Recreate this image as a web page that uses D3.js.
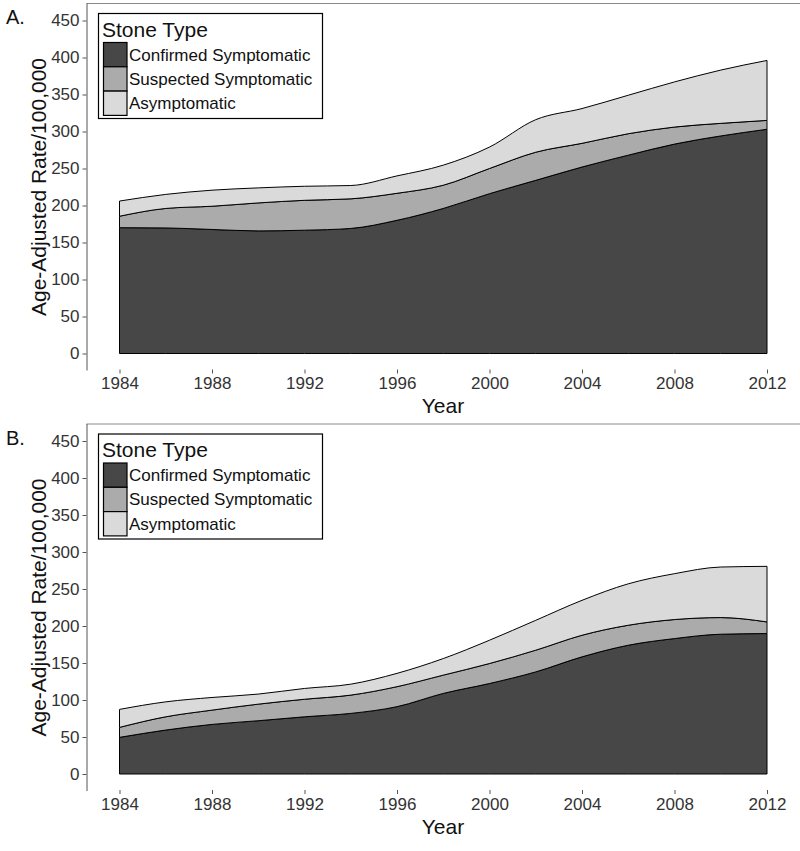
<!DOCTYPE html>
<html>
<head>
<meta charset="utf-8">
<script src="https://cdn.jsdelivr.net/npm/d3@7"></script>
<style>
  html, body { margin: 0; padding: 0; background: #ffffff; }
  svg { display: block; font-family: "Liberation Sans", Arial, sans-serif; }
</style>
</head>
<body>
<svg id="chart" width="800" height="851"></svg>
<script>
// ---------------- DATA ----------------
const years = [1984, 1986, 1988, 1990, 1992, 1994, 1996, 1998, 2000, 2002, 2004, 2006, 2008, 2010, 2012];
const seriesNames = ["Confirmed Symptomatic", "Suspected Symptomatic", "Asymptomatic"];
const seriesColors = ["#474747", "#ababab", "#dadada"];

// Panel A
const confirmedA    = [170, 169.7, 167.6, 165.7, 166.6, 169, 180, 196, 216, 234, 252, 268, 283, 294, 303];
const suspectedA    = [15.5, 26.3, 31.4, 37.8, 40.4, 40, 36.5, 31.4, 34, 38, 32, 29, 23, 17, 12];
const asymptomaticA = [20.5, 19, 21.7, 20.3, 19, 18, 23.5, 27.1, 29, 44, 47, 52, 61, 72, 81];

// Panel B
const confirmedB    = [49.5, 59.4, 67, 72, 77.3, 81.9, 91, 108.9, 122.3, 138, 158.3, 174, 183, 188.9, 189.8];
const suspectedB    = [13.5, 17.9, 19.3, 22.4, 23.7, 24.7, 27, 24.7, 27, 29.3, 29.2, 27, 25.7, 22.5, 15.7];
const asymptomaticB = [24.3, 20.2, 17.1, 13.6, 14.6, 14.8, 18, 22.4, 31.5, 40.4, 47.2, 56, 62, 68.3, 75.1];

const yTicks = [0, 50, 100, 150, 200, 250, 300, 350, 400, 450];
const xTicks = [1984, 1988, 1992, 1996, 2000, 2004, 2008, 2012];
const panelLabels = ["A.", "B."];
const yTitle = "Age-Adjusted Rate/100,000";
const xTitle = "Year";
const legendTitle = "Stone Type";

// ---------------- DRAW ----------------
const svg = d3.select("#chart");

const xLeftAxis = 86.5;
const x = d3.scaleLinear().domain([1984, 2012]).range([119.5, 767]);
// y: 0 -> 353.5, 450 -> 20.5 ; axis line spans 3..370 (expanded domain)
const yPerUnit = (353.5 - 20.5) / 450;
const y = d3.scaleLinear()
  .domain([-(370 - 353.5) / yPerUnit, (353.5 - 3) / yPerUnit])
  .range([370, 3]);

function drawPanel(oy, label, conf, susp, asym) {
  const g = svg.append("g").attr("transform", `translate(0,${oy})`);

  const table = years.map((yr, i) => ({
    year: yr,
    [seriesNames[0]]: conf[i],
    [seriesNames[1]]: susp[i],
    [seriesNames[2]]: asym[i]
  }));
  const stacked = d3.stack().keys(seriesNames)(table);

  const area = d3.area()
    .x(d => x(d.data.year))
    .y0(d => y(d[0]))
    .y1(d => y(d[1]))
    .curve(d3.curveMonotoneX);

  g.selectAll("path.layer")
    .data(stacked)
    .join("path")
    .attr("class", "layer")
    .attr("d", area)
    .attr("fill", (d, i) => seriesColors[i])
    .attr("stroke", "#000")
    .attr("stroke-width", 1)
    .attr("stroke-linejoin", "round");

  // top border line
  g.append("line")
    .attr("x1", xLeftAxis).attr("x2", 800)
    .attr("y1", 3.5).attr("y2", 3.5)
    .attr("stroke", "#8a8a8a").attr("stroke-width", 1);

  // y axis
  const yAxis = g.append("g")
    .attr("transform", `translate(${xLeftAxis},0)`)
    .call(d3.axisLeft(y).tickValues(yTicks).tickSize(4).tickSizeOuter(0).tickPadding(3));
  yAxis.select(".domain").attr("stroke", "#555");
  yAxis.selectAll(".tick line").attr("stroke", "#555");
  yAxis.selectAll(".tick text")
    .attr("font-size", 17)
    .attr("fill", "#333")
    .attr("font-family", "Liberation Sans, Arial, sans-serif");

  // x axis (no domain line)
  const xAxis = g.append("g")
    .attr("transform", `translate(0,369.5)`)
    .call(d3.axisBottom(x).tickValues(xTicks).tickFormat(d3.format("d")).tickSize(4).tickPadding(3.5));
  xAxis.select(".domain").remove();
  xAxis.selectAll(".tick line").attr("stroke", "#555");
  xAxis.selectAll(".tick text")
    .attr("font-size", 17)
    .attr("fill", "#333")
    .attr("font-family", "Liberation Sans, Arial, sans-serif");

  // axis titles
  g.append("text")
    .attr("x", 443)
    .attr("y", 413)
    .attr("text-anchor", "middle")
    .attr("font-size", 21)
    .attr("fill", "#111")
    .text(xTitle);

  g.append("text")
    .attr("transform", `translate(46,187) rotate(-90)`)
    .attr("text-anchor", "middle")
    .attr("font-size", 21)
    .attr("fill", "#111")
    .text(yTitle);

  // panel label
  g.append("text")
    .attr("x", 6)
    .attr("y", 24)
    .attr("font-size", 20)
    .attr("fill", "#111")
    .text(label);

  // legend
  const lg = g.append("g");
  lg.append("rect")
    .attr("x", 98.5).attr("y", 13.5)
    .attr("width", 224).attr("height", 105)
    .attr("fill", "#fff")
    .attr("stroke", "#000").attr("stroke-width", 1.2);
  lg.append("text")
    .attr("x", 102).attr("y", 36.5)
    .attr("font-size", 21)
    .attr("fill", "#111")
    .text(legendTitle);
  seriesNames.forEach((name, i) => {
    const ky = 42.5 + i * 24.3;
    lg.append("rect")
      .attr("x", 103.5).attr("y", ky)
      .attr("width", 23.5).attr("height", 24.3)
      .attr("fill", seriesColors[i])
      .attr("stroke", "#000").attr("stroke-width", 1.2);
    lg.append("text")
      .attr("x", 129).attr("y", ky + 12.2)
      .attr("dy", "0.35em")
      .attr("font-size", 17)
      .attr("fill", "#111")
      .text(name);
  });
}

drawPanel(0, panelLabels[0], confirmedA, suspectedA, asymptomaticA);
drawPanel(420.5, panelLabels[1], confirmedB, suspectedB, asymptomaticB);
</script>
</body>
</html>
